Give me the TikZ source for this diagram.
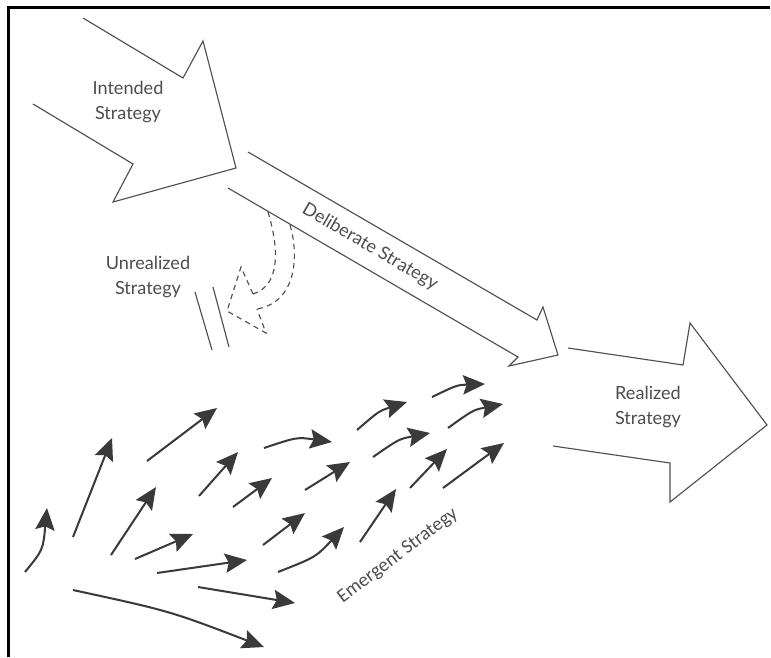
\documentclass[tikz,border=0pt]{standalone}
\usepackage{fontspec}
\usepackage{xcolor}
\usepackage{tikz}
\usetikzlibrary{arrows.meta}
\newfontfamily\stratfont{Lato}
\newfontfamily\emfont{Carlito}
\definecolor{shapegray}{HTML}{505050}
\definecolor{arrowgray}{HTML}{3A3A3A}
\definecolor{textgray}{HTML}{4D4D4D}

\begin{document}
\begin{tikzpicture}[
    x=0.02cm, y=-0.02cm,
    outline/.style={draw=shapegray, line width=0.65pt, line join=miter},
    stext/.style={align=center, text=textgray, font=\stratfont\fontsize{10.3}{14.2}\selectfont},
    emarrow/.style={-{Stealth[length=12.5pt, width=11pt, inset=2pt]}, draw=arrowgray, line width=1.15pt},
    dashline/.style={draw=shapegray, line width=0.65pt, dash pattern=on 3pt off 2.5pt}
]
    \useasboundingbox (0,0) rectangle (771,657);

    % Frame of the scan
    \draw[line width=1.4pt] (770,7.5) -- (8.5,7.5) -- (8.5,657);

    % Intended strategy arrow
    \draw[outline] (83,18) -- (183,78) -- (203,41) -- (236,168) -- (113,202) -- (133,164) -- (33,104);
    \node[stext] (intended) at (128,102) {Intended\\Strategy};

    % Deliberate strategy band
    \draw[outline] (248,152) -- (537,320) -- (543,307) -- (558,355) -- (509,366) -- (518,357) -- (228,188);
    \node[stext, rotate=-30.2] (deliberate) at (370,247) {Deliberate Strategy};

    % Unrealized strategy (dashed arrow and stop lines)
    \draw[dashline] (268,212) .. controls (278,245) and (282,285) .. (253,294);
    \draw[dashline] (290,225) .. controls (299,255) and (297,302) .. (257,309);
    \draw[dashline] (253,294) -- (241,267) -- (227,311) -- (266,333) -- (257,309);
    \draw[outline] (195,292) -- (212,350);
    \draw[outline] (213,287) -- (229,347);
    \node[stext] (unrealized) at (148,277) {Unrealized\\Strategy};

    % Realized strategy arrow
    \draw[outline] (568,348) -- (683,365) -- (690,323) -- (767,425) -- (670,502) -- (670,463) -- (553,446);
    \node[stext] (realized) at (648,407) {Realized\\Strategy};

    % Emergent strategy arrows
    \draw[emarrow] (25,572) .. controls (43,550) .. (47,508);
    \draw[emarrow] (73,537) -- (112,438);
    \draw[emarrow] (147,461) -- (217,408);
    \draw[emarrow] (111,555) -- (156,487);
    \draw[emarrow] (199,496) -- (238,452);
    \draw[emarrow] (233,507) -- (272,478);
    \draw[emarrow] (135,559) -- (193,534);
    \draw[emarrow] (157,573) -- (247,560);
    \draw[emarrow] (198,587) -- (295,603);
    \draw[emarrow] (73,590) .. controls (170,611) .. (264,647);
    \draw[emarrow] (264,448) .. controls (297,437) .. (332,442);
    \draw[emarrow] (357,430) .. controls (379,411) .. (407,402);
    \draw[emarrow] (432,397) .. controls (457,385) .. (485,384);
    \draw[emarrow] (305,490) -- (350,462);
    \draw[emarrow] (373,457) .. controls (399,439) .. (430,433);
    \draw[emarrow] (448,428) .. controls (473,410) .. (503,404);
    \draw[emarrow] (263,545) -- (305,513);
    \draw[emarrow] (278,572) .. controls (316,557) .. (344,527);
    \draw[emarrow] (360,542) -- (396,489);
    \draw[emarrow] (410,488) -- (447,449);
    \draw[emarrow] (443,488) -- (504,443);
    \node[text=textgray, font=\emfont\fontsize{11}{12}\selectfont, rotate=37] (emergent) at (398,556) {Emergent Strategy};

\end{tikzpicture}
\end{document}
